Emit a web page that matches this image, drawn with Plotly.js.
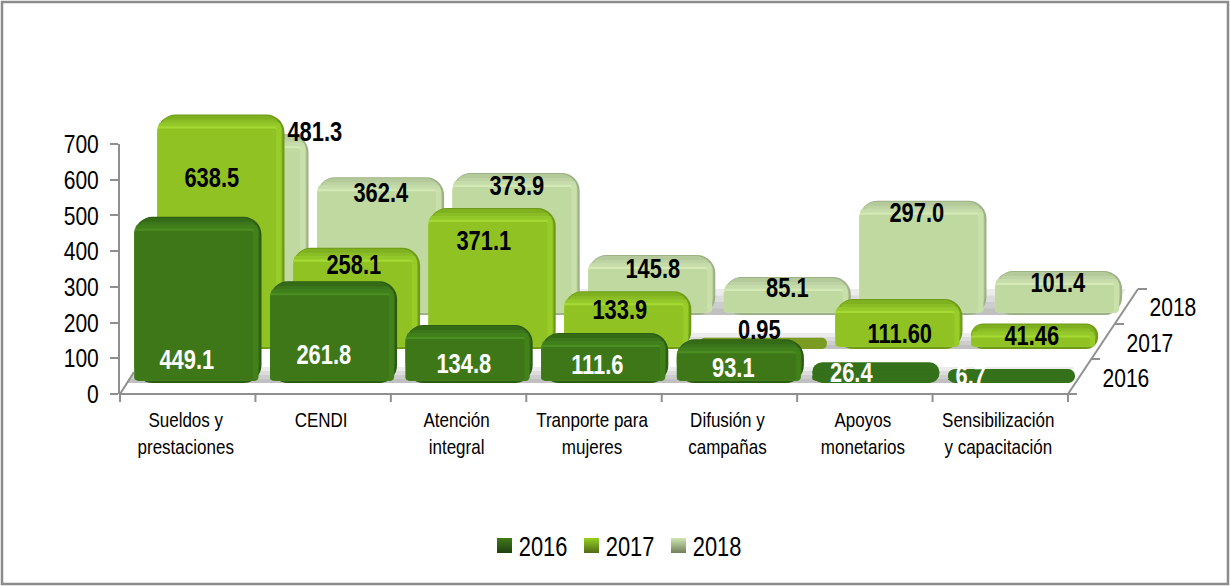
<!DOCTYPE html>
<html><head><meta charset="utf-8">
<script src="https://cdn.plot.ly/plotly-3.0.1.min.js"></script>
<style>html,body{margin:0;padding:0;background:#fff}</style></head>
<body><div id="chart" style="width:1230px;height:586px"></div>
<script>
const categories = ["Sueldos y<br>prestaciones","CENDI","Atención<br>integral","Tranporte para<br>mujeres","Difusión y<br>campañas","Apoyos<br>monetarios","Sensibilización<br>y capacitación"];
const values2016 = [449.1,261.8,134.8,111.6,93.1,26.4,6.7];
const values2017 = [638.5,258.1,371.1,133.9,0.95,111.60,41.46];
const values2018 = [481.3,362.4,373.9,145.8,85.1,297.0,101.4];
const labels2016 = ["449.1","261.8","134.8","111.6","93.1","26.4","6.7"];
const labels2017 = ["638.5","258.1","371.1","133.9","0.95","111.60","41.46"];
const labels2018 = ["481.3","362.4","373.9","145.8","85.1","297.0","101.4"];
const yTicks = [0,100,200,300,400,500,600,700];
const depthNames = ["2016","2017","2018"];
// where the hand-placed data labels sit in the reference (page pixels)
const labelSpots2016 = [[187,360],[324,355],[464,364],[597,365],[733,368],[851,373],[971,376]];
const labelSpots2017 = [[212,178],[354,265],[484,241],[620,310],[759,330],[900,334],[1032,336]];
const labelSpots2018 = [[315,132],[381,193],[517,186],[653,269],[787,288],[917,213],[1058,283]];

const W=1230,H=586, FONT='"Liberation Sans",Arial,sans-serif', NARROW=0.81;
const PITCH=135.6, TOP=60, GREY='#8f8f8f';
const layers=[
 {n:'2018',v:values2018,t:labels2018,spots:labelSpots2018,ax:'2',left:177.2,bottom:315,s:.36,cap:7.4,
  edge:'#9db186',high:'#b5ca9b',low:'#d4e9b7',face:'#bfd9a0',side:'#c9e0aa',flat:'#b3c899',ink:'#000',leg:'#cfe6b0',legd:'#6f7f5c'},
 {n:'2017',v:values2017,t:labels2017,spots:labelSpots2017,ax:'3',left:153.2,bottom:349,s:.35,cap:11,
  edge:'#6e9a18',high:'#7fb01f',low:'#a4da33',face:'#90c224',side:'#98cc28',flat:'#7a9c22',ink:'#000',leg:'#95d024',legd:'#4f6a16'},
 {n:'2016',v:values2016,t:labels2016,spots:labelSpots2016,ax:'4',left:130.2,bottom:383,s:.344,cap:11.7,
  edge:'#2c5c11',high:'#346b16',low:'#4b8f23',face:'#3e7718',side:'#42801a',flat:'#35701a',ink:'#fff',leg:'#3f7a1a',legd:'#1f4010'}
];
const mix=(a,b,t)=>{const p=h=>[1,3,5].map(i=>parseInt(h.substr(i,2),16)),A=p(a),B=p(b);
  return 'rgb('+A.map((c,i)=>Math.round(c+(B[i]-c)*t)).join(',')+')';};
const x=[0,1,2,3,4,5,6];
const traces=[],layout={width:W,height:H,margin:{l:0,r:0,t:0,b:0},paper_bgcolor:'#fff',plot_bgcolor:'rgba(0,0,0,0)',
  showlegend:true,barmode:'overlay',
  legend:{orientation:'h',x:.5,xanchor:'center',y:1-546/H,yanchor:'middle',font:{family:FONT,size:27,color:'#000'},itemclick:false,entrywidth:42,entrywidthmode:'pixels'},
  xaxis:{domain:[120/W,1068/W],range:[-.5,6.5],tickmode:'array',tickvals:x,ticktext:categories,showgrid:false,zeroline:false,
    showline:false,ticks:'',tickfont:{family:FONT,size:21,color:'#000'},anchor:'y',ticklabelstandoff:11,ticklabelshift:-2},
  yaxis:{domain:[1-394/H,1-144/H],range:[0,700],tickmode:'array',tickvals:yTicks,showgrid:false,zeroline:false,showline:true,linecolor:GREY,linewidth:2,
    ticks:'outside',ticklen:8,tickcolor:GREY,tickwidth:2,tickfont:{family:FONT,size:26,color:'#000'},anchor:'x',ticklabelstandoff:6},
  annotations:[],shapes:[]};
traces.push({type:'scatter',x:[0],y:[0],xaxis:'x',yaxis:'y',mode:'none',showlegend:false,hoverinfo:'skip'});
layers.forEach(L=>{
  const xa='xaxis'+L.ax, ya='yaxis'+L.ax, y0=-L.cap/L.s, y1=(L.bottom-L.cap-TOP)/L.s;
  layout[xa]={domain:[L.left/W,(L.left+7*PITCH)/W],range:[-.5,6.5],visible:false,fixedrange:true,anchor:'y'+L.ax};
  layout[ya]={domain:[1-L.bottom/H,1-TOP/H],range:[y0,y1],visible:false,fixedrange:true,anchor:'x'+L.ax};
  const px=p=>p/L.s, u=p=>p/PITCH, w=127/PITCH;
  const colors=c=>L.v.map(v=>v*L.s<12?L.flat:c);
  const add=(o)=>traces.push(Object.assign({type:'bar',x:x,xaxis:'x'+L.ax,yaxis:'y'+L.ax,hoverinfo:'skip',showlegend:false},o));
  const layer=(topIn,botIn,leftIn,rightIn,color,r)=>add({
    y:L.v.map(v=>Math.max(v-y0-px(topIn)-px(botIn),px(1))),base:y0+px(botIn),
    width:w-u(leftIn+rightIn),offset:-w/2+u(leftIn),marker:{color:colors(color),cornerradius:r,line:{width:0}}});
  layer(0,0,0,0,L.edge,18);
  layer(1,2,0,2,L.high,17);
  layer(5,2,6,7,mix(L.high,L.low,.3),3);
  layer(8,2,1,4,mix(L.high,L.low,.55),3);
  layer(11,3,0,3,L.side,3);
  layer(12,3,0,8,L.low,2);
  layer(14,3,0,8,L.face,2);
  L.t.forEach((t,i)=>{
    const tx=L.left+(i+.5)*PITCH, ty=L.bottom-L.cap-L.v[i]*L.s;
    layout.annotations.push({xref:'x'+L.ax,yref:'y'+L.ax,x:i,y:L.v[i],text:'<b>'+t+'</b>',showarrow:false,
      xshift:L.spots[i][0]-tx,yshift:ty-L.spots[i][1],font:{family:FONT,size:27,color:L.ink},yanchor:'middle',xanchor:'center'});
  });
});
// legend keys
layers.slice().reverse().forEach(L=>traces.push({type:'scatter',x:[null],y:[null],xaxis:'x',yaxis:'y',mode:'markers',name:L.n,
  marker:{symbol:'square',size:15,color:L.leg,gradient:{type:'vertical',color:L.legd},line:{width:0}},hoverinfo:'skip'}));
// depth axis labels
depthNames.forEach((d,i)=>layout.annotations.push({xref:'paper',yref:'paper',x:(1126+i*23.5)/W,y:1-(378-i*35.5)/H,text:d,showarrow:false,xanchor:'center',yanchor:'middle',font:{family:FONT,size:26,color:'#000'}}));
const path=(pts)=>'M'+pts.map(p=>(p[0]/W).toFixed(5)+','+(1-p[1]/H).toFixed(5)).join(' L')+' Z';
const rightX=y=>1068+(394-y)*.667, leftX=y=>120+(394-y)*.667;
const band=(y1,y2,c)=>({type:'path',xref:'paper',yref:'paper',layer:'below',line:{width:0},fillcolor:c,
   path:path([[leftX(y2),y2],[rightX(y2)-12,y2],[rightX(y1)-12,y1],[leftX(y1),y1]])});
const floor=(yb,h)=>[band(yb-h,yb,'#ececec'),band(yb-h*.75,yb,'#dcdcdc'),band(yb-h*.5,yb,'#cdcdcd'),band(yb-h*.25,yb,'#c0c0c0')];
const line=(a,b)=>({type:'line',xref:'paper',yref:'paper',x0:a[0]/W,y0:1-a[1]/H,x1:b[0]/W,y1:1-b[1]/H,line:{color:GREY,width:2}});
layout.shapes.push(
 {type:'rect',xref:'paper',yref:'paper',x0:2/W,x1:1228/W,y0:1-584/H,y1:1-2/H,line:{color:'#8c8c8c',width:2.5},fillcolor:'rgba(0,0,0,0)'},
 ...floor(383,16),...floor(349,16),...floor(315,26),
 line([120,394],[1068,394]),line([120,394],[134,372]),line([1068,394],[1138,289]),
 ...[0,1,2,3,4,5,6,7].map(i=>line([120+i*135.43,394],[120+i*135.43,402])),
 line([1068,394],[1077,394]),line([1091,359],[1100,359]),line([1115,324],[1124,324]),line([1138,289],[1147,289])
);
Plotly.newPlot('chart',traces,layout,{displayModeBar:false,staticPlot:true}).then(()=>{
  // the reference font is a narrow face: condense each real text element around its anchor
  document.querySelectorAll('#chart svg text').forEach(t=>{
    const b=t.getBBox(), a=getComputedStyle(t).textAnchor;
    const c=a==='end'?b.x+b.width:a==='middle'?b.x+b.width/2:b.x;
    const old=t.getAttribute('transform')||'';
    t.setAttribute('transform',old+` translate(${c},0) scale(${NARROW},1) translate(${-c},0)`);
    if(t.classList.contains('legendtext')) t.setAttribute('x',(+t.getAttribute('x'))-7);
  });
});
</script></body></html>
